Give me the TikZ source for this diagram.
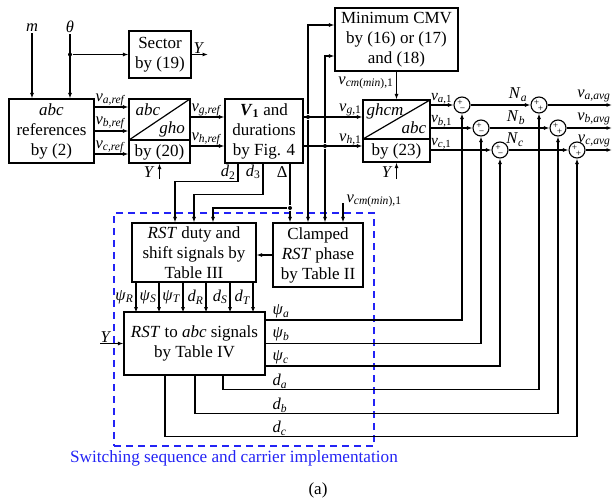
\documentclass[tikz,border=0pt]{standalone}
\usepackage{fontspec}
\setmainfont{Liberation Serif}
\usetikzlibrary{arrows.meta,calc}
\definecolor{dblue}{RGB}{35,35,245}
\newcommand{\sgl}[2]{\textit{#1}\textsubscript{#2}}
\begin{document}
\begin{tikzpicture}[x=1pt,y=-1pt,line width=1.1pt,
 arr/.style={-{Latex[length=5.5pt,width=4pt]}},
 blk/.style={draw,line width=1.2pt,align=center,inner sep=0pt,font=\fontsize{17}{20}\selectfont},
 lbl/.style={inner sep=1pt,font=\fontsize{16.5}{18}\selectfont},
 sm/.style={circle,draw,minimum size=16pt,inner sep=0pt},
 sgn/.style={inner sep=0pt,font=\fontsize{9.5}{9.5}\selectfont},
 dot/.style={circle,fill,inner sep=0pt,minimum size=4pt}]
\useasboundingbox (0,0) rectangle (612,500);

% top inputs
\node[lbl] (m) at (32,28) {\textit{m}};
\node[lbl] (th) at (70,27) {\textit{θ}};
\node[blk,minimum width=85pt,minimum height=64pt] (ref) at (51.5,131) {\textit{abc}\\references\\by (2)};
\node[blk,minimum width=62pt,minimum height=47pt] (sec) at (160,54.5) {Sector\\by (19)};
\node[dot] (jt) at (70,54.5) {};
\draw[arr] (m) -- (m |- ref.north);
\draw[arr] (th) -- (th |- ref.north);
\draw[arr] (jt) -- (sec.west);
\coordinate (ys) at (208,54.5);
\draw[arr] (sec.east) -- (ys);
\node[lbl,anchor=south] (ysl) at (199,55) {\textit{Y}};

% abc -> gho
\node[blk,minimum width=61pt,minimum height=64pt] (gho) at (159.5,131) {};
\draw[line width=1.2pt] (129,140) -- (190,140);
\draw[line width=1.2pt] (129,140) -- (190,99);
\node[lbl,font=\fontsize{17}{18}\selectfont] (tabc) at (148,110) {\textit{abc}};
\node[lbl,font=\fontsize{17}{18}\selectfont] (tgho) at (172,129) {\textit{gho}};
\node[lbl,font=\fontsize{17}{18}\selectfont] (t20) at (159.5,152) {by (20)};
\draw[arr] ([yshift=24pt]ref.east) -- ([yshift=24pt]gho.west);
\draw[arr] (ref.east) -- (gho.west);
\draw[arr] ([yshift=-23pt]ref.east) -- ([yshift=-23pt]gho.west);
\node[lbl,anchor=south west] (lva) at (94,108) {\sgl{v}{\textit{a,ref}}};
\node[lbl,anchor=south west] (lvb) at (94,131) {\sgl{v}{\textit{b,ref}}};
\node[lbl,anchor=south west] (lvc) at (94,155) {\sgl{v}{\textit{c,ref}}};
\coordinate (yg) at (159.5,179);
\draw[arr] (yg) -- (gho.south);
\node[lbl,anchor=east] (ygl) at (156,172) {\textit{Y}};

% V1 box
\node[blk,minimum width=78pt,minimum height=64pt] (v1) at (264,131) {\textbf{\textit{V}\textsubscript{1}} and\\durations\\by Fig. 4};
\draw[arr] ([yshift=14pt]gho.east) -- ([yshift=14pt]v1.west);
\draw[arr] ([yshift=-15pt]gho.east) -- ([yshift=-15pt]v1.west);
\node[lbl,anchor=south west] (lvg) at (190,118) {\sgl{v}{\textit{g,ref}}};
\node[lbl,anchor=south west] (lvh) at (190,147) {\sgl{v}{\textit{h,ref}}};

% min CMV and ghcm
\node[blk,minimum width=123pt,minimum height=63pt] (cmv) at (396.5,39.5) {Minimum CMV\\by (16) or (17)\\and (18)};
\node[blk,minimum width=67pt,minimum height=62pt] (gh) at (396.5,131) {};
\draw[line width=1.2pt] (363,139) -- (430,139);
\draw[line width=1.2pt] (363,139) -- (430,100);
\node[lbl,font=\fontsize{17}{18}\selectfont] (tghcm) at (385,111) {\textit{ghcm}};
\node[lbl,font=\fontsize{17}{18}\selectfont] (tabc2) at (414,128) {\textit{abc}};
\node[lbl,font=\fontsize{17}{18}\selectfont] (t23) at (396.5,151) {by (23)};
\draw[arr] ([yshift=14pt]v1.east) -- ([yshift=14pt]gh.west);
\draw[arr] ([yshift=-15pt]v1.east) -- ([yshift=-15pt]gh.west);
\node[lbl,anchor=south east] (lg1) at (363,118) {\sgl{v}{\textit{g},1}};
\node[lbl,anchor=south east] (lh1) at (363,147) {\sgl{v}{\textit{h},1}};
\draw[arr] (cmv.south) -- (gh.north);
\node[lbl,anchor=south east] (lcm) at (395,91) {\sgl{v}{\textit{cm}(\textit{min}),1}};
\coordinate (yh) at (396.5,179);
\draw[arr] (yh) -- (gh.south);
\node[lbl,anchor=east] (yhl) at (394,172) {\textit{Y}};

% junctions
\node[dot] (j1) at (308,117) {};
\node[dot] (j2) at (325,146) {};
\node[dot] (jd) at (290,208) {};
\draw[arr] (j1) |- ([yshift=14.5pt]cmv.west);
\draw[arr] (j2) |- ([yshift=-16.5pt]cmv.west);

% summing junctions
\node[sm] (sa) at (462,105) {};
\node[sm] (sb) at (481,128) {};
\node[sm] (sc) at (500,150) {};
\node[sm] (na) at (539,105) {};
\node[sm] (nb) at (558,128) {};
\node[sm] (nc) at (577,150) {};
\foreach \s in {sa,sb,sc}{
 \node[sgn] at ([xshift=-2pt,yshift=2.5pt]\s.center) {+};
 \node[sgn] at ([xshift=0.5pt,yshift=-5pt]\s.center) {−};
}
\foreach \s in {na,nb,nc}{
 \node[sgn] at ([xshift=-2.5pt,yshift=2.5pt]\s.center) {+};
 \node[sgn] at ([xshift=1.5pt,yshift=-4pt]\s.center) {+};
}
\draw[arr] (sa.west -| gh.east) -- (sa.west);
\draw[arr] (sb.west -| gh.east) -- (sb.west);
\draw[arr] (sc.west -| gh.east) -- (sc.west);
\node[lbl,anchor=south west,inner sep=0.5pt,font=\fontsize{15.5}{17}\selectfont] (la1) at (430,105) {\sgl{v}{\textit{a},1}};
\node[lbl,anchor=south west,inner sep=0.5pt,font=\fontsize{15.5}{17}\selectfont] (lb1) at (430,128) {\sgl{v}{\textit{b},1}};
\node[lbl,anchor=south west,inner sep=0.5pt,font=\fontsize{15.5}{17}\selectfont] (lc1) at (430,150) {\sgl{v}{\textit{c},1}};
\draw[arr] (sa.east) -- (na.west);
\draw[arr] (sb.east) -- (nb.west);
\draw[arr] (sc.east) -- (nc.west);
\node[lbl,anchor=south] (lna) at (518,103) {\sgl{N}{\textit{a}}};
\node[lbl,anchor=south] (lnb) at (516,126) {\sgl{N}{\textit{b}}};
\node[lbl,anchor=south] (lnc) at (515,148) {\sgl{N}{\textit{c}}};
\coordinate (oa) at (612,105);
\coordinate (ob) at (612,128);
\coordinate (oc) at (612,150);
\draw[arr] (na.east) -- (oa);
\draw[arr] (nb.east) -- (ob);
\draw[arr] (nc.east) -- (oc);
\node[lbl,anchor=south east] (loa) at (612,104) {\sgl{v}{\textit{a,avg}}};
\node[lbl,anchor=south east] (lob) at (612,127) {\sgl{v}{\textit{b,avg}}};
\node[lbl,anchor=south east] (loc) at (612,149) {\sgl{v}{\textit{c,avg}}};

% lower group
\node[draw=dblue,dash pattern=on 7pt off 5pt,line width=1.2pt,minimum width=260pt,minimum height=233pt,inner sep=0pt] (grp) at (244,329.5) {};
\node[font=\fontsize{17.2}{18}\selectfont,text=dblue,inner sep=0pt] (cap) at (234,458) {Switching sequence and carrier implementation};
\node[font=\fontsize{17}{18}\selectfont,inner sep=0pt] (fa) at (318,490) {(a)};

\node[blk,minimum width=124pt,minimum height=59pt] (duty) at (194,252.5) {\textit{RST} duty and\\shift signals by\\Table III};
\node[blk,minimum width=90pt,minimum height=64pt] (cl) at (318,255) {Clamped\\\textit{RST} phase\\by Table II};
\node[blk,minimum width=141pt,minimum height=63pt] (rst) at (194.5,343.5) {\textit{RST} to \textit{abc} signals\\by Table IV};

\draw[arr] (cl.west) -- (cl.west -| duty.east);
\draw[arr] (j1) -- (j1 |- cl.north);
\draw[arr] (j2) -- (j2 |- cl.north);
\draw[arr] ([xshift=26pt]v1.south) -- (jd) -- (jd |- cl.north);
\draw[arr] (jd) -| ([xshift=19pt]duty.north);
\draw[arr] ([xshift=-26pt]v1.south) -- ++(0,18) -| ([xshift=-19pt]duty.north);
\draw[arr] ([xshift=-1pt]v1.south) -- ++(0,31) -| (duty.north);
\node[lbl,anchor=east] (ld2) at (237,172) {\sgl{d}{2}};
\node[lbl,anchor=east] (ld3) at (262,172) {\sgl{d}{3}};
\node[lbl,anchor=east] (ldl) at (289,172) {Δ};
\coordinate (ci) at (343,203);
\draw[arr] (ci) -- (ci |- cl.north);
\node[lbl,anchor=south west] (lci) at (345,209) {\sgl{v}{\textit{cm}(\textit{min}),1}};

\foreach \dx in {-58,-35,-11,12,36,59}
  \draw[arr] ([xshift=\dx pt]duty.south) -- ++(0,30);
\node[lbl,anchor=east] (lpr) at (135,297) {\sgl{ψ}{\textit{R}}};
\node[lbl,anchor=east] (lps) at (158,297) {\sgl{ψ}{\textit{S}}};
\node[lbl,anchor=east] (lpt) at (182,297) {\sgl{ψ}{\textit{T}}};
\node[lbl,anchor=east] (ldr) at (205,297) {\sgl{d}{\textit{R}}};
\node[lbl,anchor=east] (lds) at (229,297) {\sgl{d}{\textit{S}}};
\node[lbl,anchor=east] (ldt) at (252,297) {\sgl{d}{\textit{T}}};

\coordinate (yin) at (100,343.5);
\draw[arr] (yin) -- (rst.west);
\node[lbl,anchor=south] (lyin) at (106,344) {\textit{Y}};

\draw[arr] ([yshift=23.5pt]rst.east) -| (sa.south);
\draw[arr] (rst.east) -| (sb.south);
\draw[arr] ([yshift=-22.5pt]rst.east) -| (sc.south);
\draw[arr] ([xshift=28.5pt]rst.south) -- ++(0,14) -| (na.south);
\draw[arr] ([xshift=0.5pt]rst.south) -- ++(0,38) -| (nb.south);
\draw[arr] ([xshift=-29.5pt]rst.south) -- ++(0,61) -| (nc.south);
\node[lbl,anchor=south west] (lpa) at (271,320) {\sgl{ψ}{\textit{a}}};
\node[lbl,anchor=south west] (lpb) at (271,343) {\sgl{ψ}{\textit{b}}};
\node[lbl,anchor=south west] (lpc) at (271,366) {\sgl{ψ}{\textit{c}}};
\node[lbl,anchor=south west] (lda) at (271,390) {\sgl{d}{\textit{a}}};
\node[lbl,anchor=south west] (ldb) at (271,414) {\sgl{d}{\textit{b}}};
\node[lbl,anchor=south west] (ldc) at (271,437) {\sgl{d}{\textit{c}}};
\end{tikzpicture}
\end{document}
